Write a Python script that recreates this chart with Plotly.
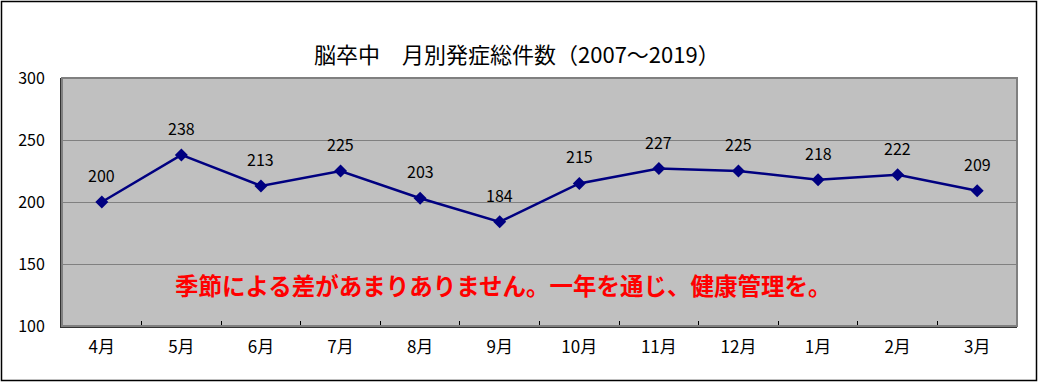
import plotly.graph_objects as go

months = ["4月", "5月", "6月", "7月", "8月", "9月", "10月", "11月", "12月", "1月", "2月", "3月"]
counts = [200, 238, 213, 225, 203, 184, 215, 227, 225, 218, 222, 209]
y_ticks = [100, 150, 200, 250, 300]
title_text = "脳卒中　月別発症総件数（2007～2019）"
note_text = "季節による差があまりありません。一年を通じ、健康管理を。"

FONT = "Noto Sans CJK JP, sans-serif"
W, H = 1038, 383
L, R, T, B = 62, 21, 78, 57
pw, ph = W - L - R, H - T - B

def px_x(px):
    return (px - L) / pw

def px_y(py):
    return (H - B - py) / ph

fig = go.Figure()
fig.add_trace(go.Scatter(
    x=months, y=counts, mode="lines+markers",
    line=dict(color="#000080", width=2.5),
    marker=dict(symbol="diamond", size=10, color="#000080"),
    showlegend=False, hoverinfo="skip",
))

for m, c in zip(months, counts):
    fig.add_annotation(x=m, y=c, text=str(c), showarrow=False, yshift=27,
                       font=dict(family=FONT, size=16, color="#000000"))

fig.add_annotation(x=px_x(503), y=133, xref="paper", yref="y", text="<b>" + note_text + "</b>",
                   showarrow=False, font=dict(family=FONT, size=23.5, color="#FF0000"))

fig.add_annotation(x=px_x(517), y=px_y(35), xref="paper", yref="paper", text=title_text,
                   showarrow=False, font=dict(family=FONT, size=22, color="#000000"))

# plot-area frame
fig.add_shape(type="rect", xref="paper", yref="paper", x0=0, x1=1, y0=0, y1=1,
              line=dict(color="#808080", width=2), layer="above")
# outer chart border
fig.add_shape(type="rect", xref="paper", yref="paper",
              x0=px_x(1.5), x1=px_x(1036.5), y0=px_y(380.5), y1=px_y(1.5),
              line=dict(color="#000000", width=1.5))

fig.update_layout(
    width=W, height=H,
    margin=dict(l=L, r=R, t=T, b=B, pad=0),
    paper_bgcolor="#FFFFFF", plot_bgcolor="#C0C0C0",
    font=dict(family=FONT, size=16, color="#000000"),
    xaxis=dict(type="category", range=[-0.5, len(months) - 0.5], tickson="boundaries",
               ticks="inside", ticklen=5, tickcolor="#000000", showgrid=False,
               showline=True, linecolor="#333333", linewidth=2, tickfont=dict(size=17),
               ticklabelstandoff=5, fixedrange=True),
    yaxis=dict(range=[100, 300], tickvals=y_ticks, ticks="", showgrid=True,
               gridcolor="#808080", gridwidth=1, showline=True, linecolor="#333333",
               linewidth=2, tickfont=dict(size=16), ticklabelstandoff=12,
               zeroline=False, fixedrange=True),
)

fig.write_html("out.html", config={"displayModeBar": False},
               post_script="document.body.style.margin='0';document.body.style.overflow='hidden';")
